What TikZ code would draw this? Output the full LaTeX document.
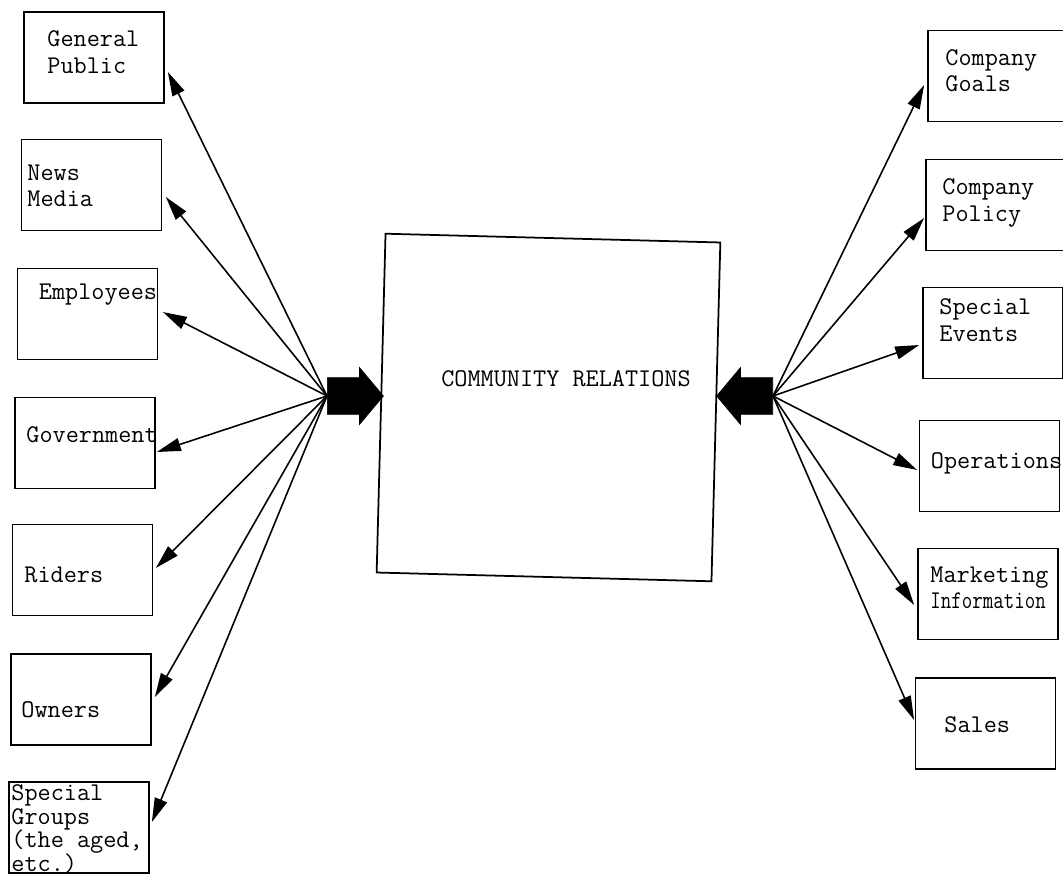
\documentclass[tikz,border=0pt]{standalone}
\usepackage{fontspec}
\usetikzlibrary{arrows.meta}
\usetikzlibrary{shapes.arrows}

\begin{document}
\begin{tikzpicture}[x=0.02cm,y=-0.02cm,
		box/.style={draw,line width=1pt,minimum width=2.8cm,minimum height=1.82cm,inner sep=0pt},
		lbl/.style={font=\ttfamily\fontsize{14.5}{15}\selectfont,align=left,inner sep=0pt,anchor=west},
		link/.style={line width=0.9pt,-{Triangle[length=4.8mm,width=2.6mm]}},
		fatarrow/.style={single arrow,fill=black,draw=black,minimum height=1.12cm,inner xsep=0pt,inner ysep=0.36cm,
			single arrow head extend=0.2cm,single arrow tip angle=100,anchor=tail}]
				\useasboundingbox (0,0) rectangle (1063,876);

				\node[box,minimum width=6.7cm,minimum height=6.78cm,rotate=-1.5] (cr) at (548.5,407.5) {};
				\node[lbl,anchor=center] (cr-txt) at ([shift={(17.5,-28.5)}]cr.center) {COMMUNITY RELATIONS};
				\node[fatarrow] (inL) at (327,396) {};
				\node[fatarrow,shape border rotate=180] (inR) at (773,396) {};

				\node[box] (gp) at (94,57.5) {};
				\node[box] (nm) at (91.5,185) {};
				\node[box] (emp) at (87.5,314) {};
				\node[box] (gov) at (85,443) {};
				\node[box] (rid) at (82.5,570) {};
				\node[box] (own) at (81,699.5) {};
				\node[box] (spg) at (79,827.5) {};

				\node[lbl] (gp-txt) at ([shift={(24,-5.5)}]gp.west) {General\\Public};
				\node[lbl] (nm-txt) at ([shift={(6.5,1)}]nm.west) {News\\Media};
				\node[lbl] (emp-txt) at ([shift={(22,-19)}]emp.west) {Employees};
				\node[lbl] (gov-txt) at ([shift={(12,-8)}]gov.west) {Government};
				\node[lbl] (rid-txt) at ([shift={(12.5,5)}]rid.west) {Riders};
				\node[lbl] (own-txt) at ([shift={(11,10)}]own.west) {Owners};
				\node[lbl,font=\ttfamily\fontsize{14.5}{13.5}\selectfont] (spg-txt) at ([shift={(3,1.5)}]spg.west) {Special\\Groups\\(the aged,\\etc.)};

				\node[box] (cg) at (998,76) {};
				\node[box] (cp) at (996,205) {};
				\node[box] (se) at (993,333) {};
				\node[box] (op) at (989.5,466) {};
				\node[box] (mi) at (988,594) {};
				\node[box] (sal) at (985.5,723.5) {};

				\node[lbl] (cg-txt) at ([shift={(18,-5.5)}]cg.west) {Company\\Goals};
				\node[lbl] (cp-txt) at ([shift={(17,-2)}]cp.west) {Company\\Policy};
				\node[lbl] (se-txt) at ([shift={(17,-13)}]se.west) {Special\\Events};
				\node[lbl] (op-txt) at ([shift={(12,-3)}]op.west) {Operations};
				\node[lbl] (mi-txt) at ([shift={(13,-6)}]mi.west) {Marketing\\\scalebox{0.8}[1]{Information}};
				\node[lbl] (sal-txt) at ([shift={(29.5,1.5)}]sal.west) {Sales};

				\draw[link] (inL.tail) -- ([shift={(3,14.5)}]gp.east);
				\draw[link] (inL.tail) -- ([shift={(3.5,12)}]nm.east);
				\draw[link] (inL.tail) -- ([shift={(4.5,-2)}]emp.east);
				\draw[link] (inL.tail) -- ([shift={(1,9)}]gov.east);
				\draw[link] (inL.tail) -- ([shift={(2.5,-2)}]rid.east);
				\draw[link] (inL.tail) -- ([shift={(3,-2.5)}]own.east);
				\draw[link] (inL.tail) -- ([shift={(2,-5.5)}]spg.east);

				\draw[link] (inR.tail) -- ([shift={(-3,9)}]cg.west);
				\draw[link] (inR.tail) -- ([shift={(-1,13)}]cp.west);
				\draw[link] (inR.tail) -- ([shift={(-3,12)}]se.west);
				\draw[link] (inR.tail) -- ([shift={(-1.5,4)}]op.west);
				\draw[link] (inR.tail) -- ([shift={(-3,11)}]mi.west);
				\draw[link] (inR.tail) -- ([shift={(-0.5,-3.5)}]sal.west);
			\end{tikzpicture}
\end{document}
